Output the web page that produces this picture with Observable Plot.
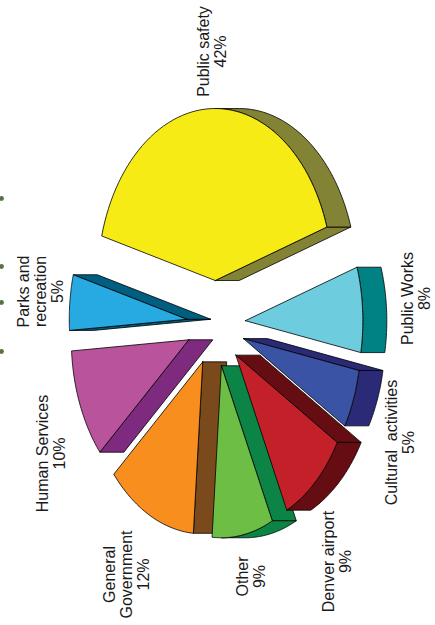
<!DOCTYPE html>
<html><head><meta charset="utf-8">
<script src="https://cdn.jsdelivr.net/npm/d3@7"></script>
<script src="https://cdn.jsdelivr.net/npm/@observablehq/plot@0.6"></script>
<style>html,body{margin:0;padding:0;background:#fff}svg{display:block}</style>
</head><body><div id="chart"></div>
<script>
const categories = ["Public safety","Public Works","Cultural activities","Denver airport","Other","General Government","Human Services","Parks and recreation"];
const percentLabels = [42,8,5,9,9,12,10,5];
// slice sizes as drawn, in percent of the full turn
const drawnShares = [40.8,8.0,5.5,9.4,8.4,12.4,10.3,5.2];
const topColors  = ["#f6eb14","#6dcddf","#3a53a4","#c4202a","#6cbe45","#f78e1e","#b9539b","#27aae1"];
const sideColors = ["#838336","#008285","#2b2a77","#650d12","#0c8445","#7a4a1c","#7d2a7f","#005e80"];
const labelLines = ["Public safety","Public Works","Cultural  activities","Denver airport","Other","General\nGovernment","Human Services","Parks and\nrecreation"];

// layout
const W = 435, H = 625, cx = 215.5, cy = 323, rx = 117.5, ry = 172, depthPx = 24;
const explode = 0.25, startDeg = -75;
const depth = depthPx / rx;
const rad = d => d * Math.PI / 180;
const px = t => Math.sin(rad(t));
const py = t => -Math.cos(rad(t));

let a = startDeg;
const slices = categories.map((name,i) => {
  const a0 = a, a1 = a + drawnShares[i] * 3.6; a = a1;
  const mid = (a0 + a1) / 2;
  return {name, i, a0, a1, mid, ox: explode * px(mid), oy: explode * py(mid)};
});

const polys = [];
const add = (id, fill, pts) => pts.forEach(p => polys.push({id, fill, x: p[0], y: p[1]}));
const arcPts = (s, from, to, dx = 0) => d3.range(0, 61).map(k => {
  const t = from + (to - from) * k / 60;
  return [s.ox + px(t) + dx, s.oy + py(t)];
});
const order = slices.slice().sort((p,q) => px(p.mid) - px(q.mid));
order.forEach(s => {
  const side = sideColors[s.i], apex = [s.ox, s.oy];
  const rim = (t, dx = 0) => [s.ox + px(t) + dx, s.oy + py(t)];
  const apexD = [s.ox + depth, s.oy];
  if (Math.cos(rad(s.a0)) < 0) add(s.name+"-a", side, [apex, rim(s.a0), rim(s.a0, depth), apexD, apex]);
  if (Math.cos(rad(s.a1)) > 0) add(s.name+"-b", side, [apex, rim(s.a1), rim(s.a1, depth), apexD, apex]);
  // outer band, only where the rim faces the depth direction
  const from = Math.max(s.a0, 0), to = Math.min(s.a1, 180);
  if (to > from) add(s.name+"-c", side, [...arcPts(s, from, to), ...arcPts(s, to, from, depth), rim(from)]);
  add(s.name+"-top", topColors[s.i], [apex, ...arcPts(s, s.a0, s.a1), apex]);
});

// label block centres in page pixels, mapped into pie units
const labelPx = [[212,51],[415.5,298],[399.5,442],[337,561],[250.5,576],[126,574],[50.5,453],[40.5,291]];
const labels = categories.map((c,i) => ({
  text: labelLines[i] + "\n" + percentLabels[i] + "%",
  x: (labelPx[i][0] - cx) / rx, y: (labelPx[i][1] - cy) / ry
}));
// small olive specks cut off at the reference's left edge
const speckY = [198,266,302,351];
const specks = speckY.map(v => ({x: (1 - cx) / rx, y: (v - cy) / ry}));

const plot = Plot.plot({
  width: W, height: H, margin: 0,
  x: {domain: [-cx / rx, (W - cx) / rx], range: [0, W], axis: null},
  y: {domain: [-cy / ry, (H - cy) / ry], range: [0, H], axis: null},
  style: {background: "#fff"},
  marks: [
    Plot.dot(specks, {x:"x", y:"y", r:2.4, fill:"#55733f", stroke:"none"}),
    Plot.line(polys, {x:"x", y:"y", z:"id", fill:"fill", stroke:"#000", strokeWidth:0.8, curve:"linear"}),
    Plot.text(labels, {x:"x", y:"y", text:"text", rotate:-90, textAnchor:"middle", lineAnchor:"middle",
      lineHeight:1.06, fontSize:16, fontFamily:"Liberation Sans", fill:"#1a1a1a"})
  ]
});
document.getElementById("chart").append(plot);
</script></body></html>
